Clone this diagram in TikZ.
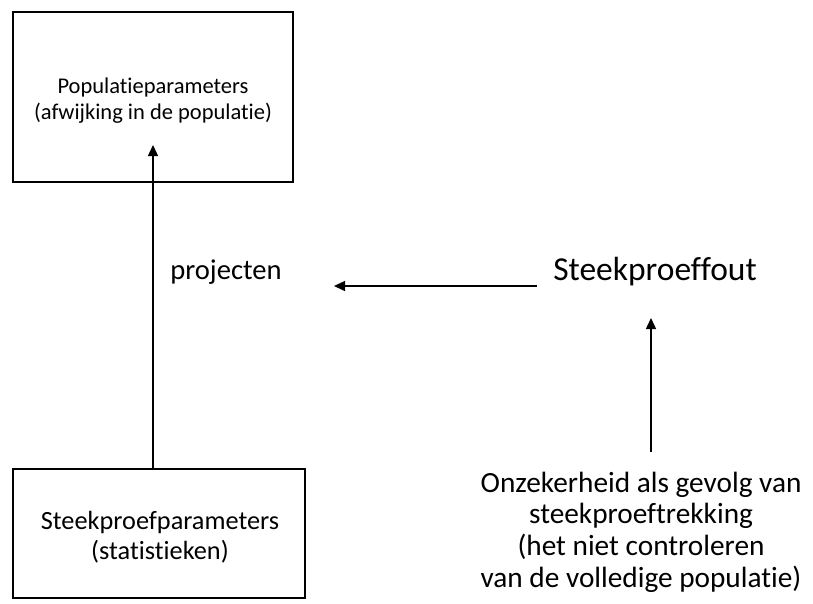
\documentclass[tikz,border=0pt]{standalone}
\usepackage{fontspec}
\setmainfont{Carlito}[Ligatures=NoCommon]
\usetikzlibrary{arrows.meta}
\tikzset{
  box/.style={draw=black, line width=2.4pt, inner sep=0pt},
  lbl/.style={inner sep=0pt, align=center, text=black},
  conn/.style={line width=1.4pt, -{Triangle[length=11pt,width=10pt]}}
}
\begin{document}
\begin{tikzpicture}[x=1pt,y=-1pt]
\useasboundingbox (0,0) rectangle (813,603);
% boxes
\node[box, minimum width=280pt, minimum height=170pt] (pop) at (153,97) {};
\node[box, minimum width=292pt, minimum height=129pt] (sample) at (159,533.5) {};
% box texts
\node[lbl, font=\fontsize{22.5}{26}\selectfont] (poptext) at (153,101)
  {Populatieparameters\\(afwijking in de populatie)};
\node[lbl, font=\fontsize{26.3}{30}\selectfont] (sampletext) at (160,537)
  {Steekproefparameters\\(statistieken)};
% free labels
\node[lbl, font=\fontsize{28.6}{32}\selectfont] (proj) at (226,272) {projecten};
\node[lbl, font=\fontsize{33.5}{38}\selectfont] (err) at (655,272) {Steekproeffout};
\node[lbl, font=\fontsize{29.3}{31.7}\selectfont] (onz) at (641,532)
  {Onzekerheid als gevolg van\\steekproeftrekking\\(het niet controleren\\van de volledige populatie)};
% connector end points
\coordinate (poptip) at (153,145);
\coordinate (errtail) at (537,286);
\coordinate (errtip) at (334,286);
\coordinate (onztail) at (651,452);
\coordinate (onztip) at (651,318);
% connectors
\draw[conn] (sample.north -| poptip) -- (poptip);
\draw[conn] (errtail) -- (errtip);
\draw[conn] (onztail) -- (onztip);
\end{tikzpicture}
\end{document}
